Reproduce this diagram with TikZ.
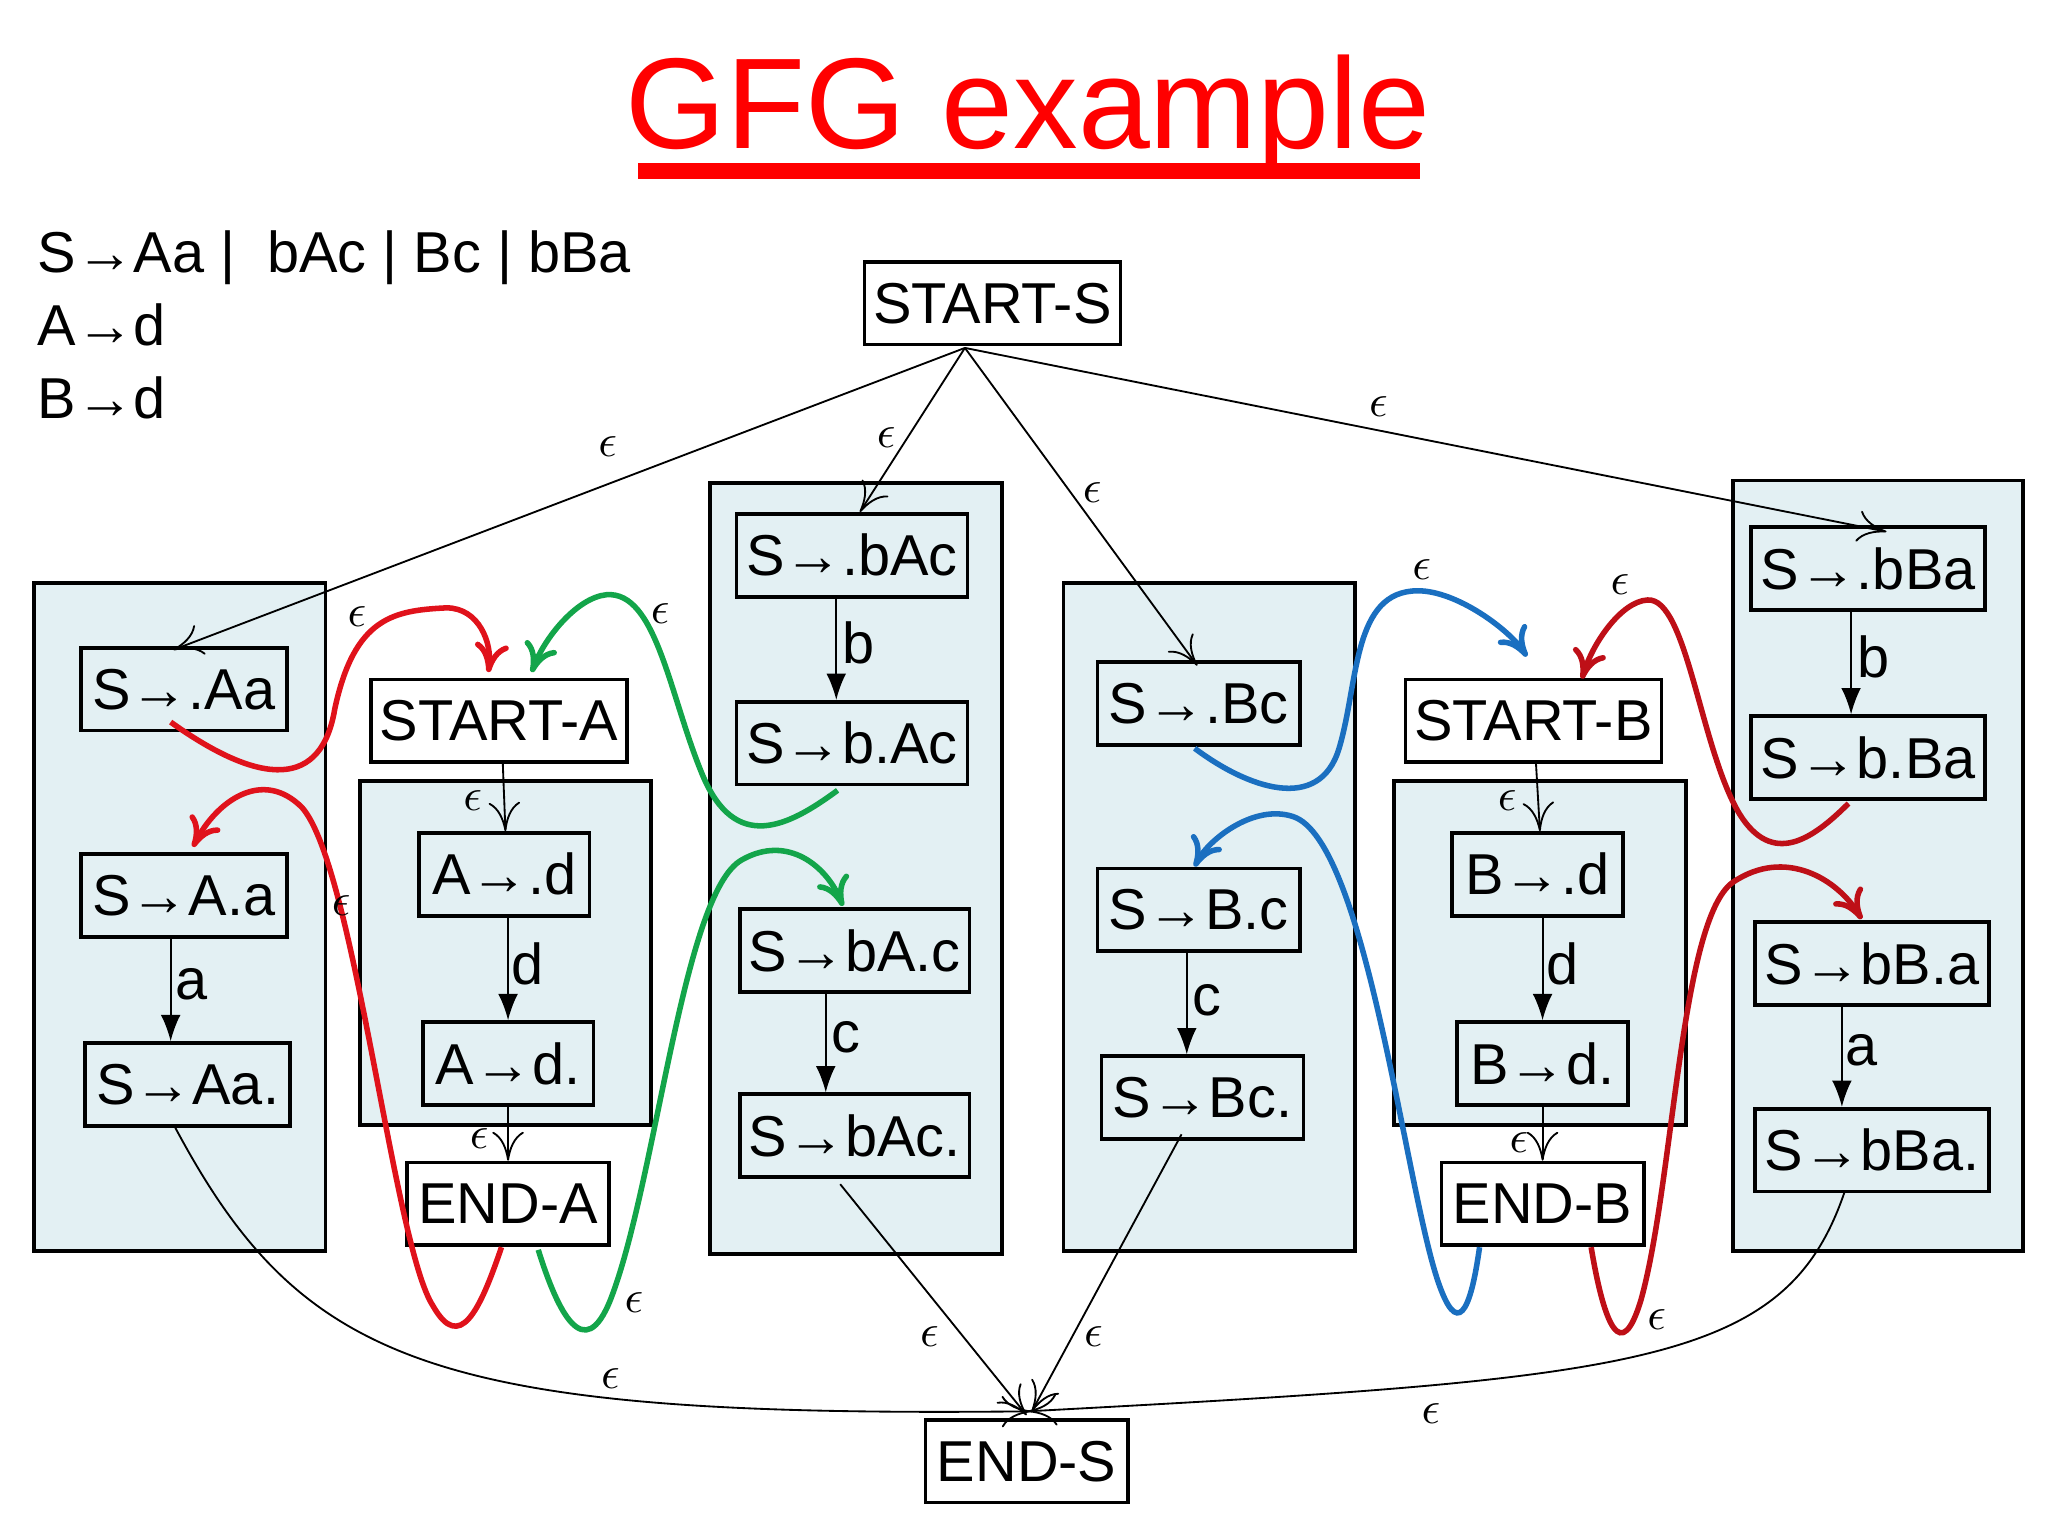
\documentclass[tikz,border=0pt]{standalone}
\usepackage{fontspec}
\setmainfont{Liberation Sans}
\usetikzlibrary{arrows.meta}
\definecolor{bgb}{HTML}{E3F0F3}
\definecolor{gr}{HTML}{13A54A}
\definecolor{bl}{HTML}{1A6FC0}
\definecolor{rd}{HTML}{E0121B}
\begin{document}
\begin{tikzpicture}[x=0.1mm,y=-0.1mm,
 box/.style={draw,thick,fill=bgb,minimum height=6.3mm,inner sep=0pt,font=\fontsize{12.5}{14}\selectfont},
 panel/.style={draw,thick,fill=bgb},
 eps/.style={font=\fontsize{10}{12}\selectfont},
 lab/.style={font=\fontsize{12.5}{14}\selectfont},
 eo/.style={-{To[length=2.2mm,width=2.4mm]}},
 ef/.style={-{Latex[length=2mm,width=1.5mm]}},
 cv/.style={very thick,-{To[length=2.2mm,width=2.6mm]}}]
\useasboundingbox (0,0) rectangle (1560,1170);
% panels
\draw[panel] (26,444) rectangle (248,953);
\draw[panel] (274,595) rectangle (496,857);
\draw[panel] (541,368) rectangle (763,955);
\draw[panel] (810,444) rectangle (1032,953);
\draw[panel] (1062,595) rectangle (1284,857);
\draw[panel] (1320,366) rectangle (1541,953);
% title
\node[text=red,font=\fontsize{28}{32}\selectfont] (title) at (783,88) {GFG example};
\draw[red,line width=1.2mm] (486,130) -- (1082,130);
\node[anchor=north west,align=left,font=\fontsize{12.5}{15.8}\selectfont,inner sep=0pt] (gram) at (28,175) {S→Aa |\ \ bAc | Bc | bBa\\A→d\\B→d};
% nodes
\node[box,fill=white,minimum width=19.5mm] (SS) at (756,231) {START-S};
\node[box,minimum width=15.7mm] (Aa0) at (140,525) {S→.Aa};
\node[box,minimum width=15.7mm] (Aa1) at (140,682) {S→A.a};
\node[box,minimum width=15.6mm] (Aa2) at (143,826) {S→Aa.};
\node[box,fill=white,minimum width=19.5mm] (SA) at (380,549) {START-A};
\node[box,minimum width=13mm] (Ad0) at (384,666) {A→.d};
\node[box,minimum width=13mm] (Ad1) at (387,810) {A→d.};
\node[box,fill=white,minimum width=15.4mm] (EA) at (387,917) {END-A};
\node[box,minimum width=17.6mm] (bAc0) at (649,423) {S→.bAc};
\node[box,minimum width=17.6mm] (bAc1) at (649,566) {S→b.Ac};
\node[box,minimum width=17.5mm] (bAc2) at (651,724) {S→bA.c};
\node[box,minimum width=17.5mm] (bAc3) at (651,865) {S→bAc.};
\node[box,minimum width=15.4mm] (Bc0) at (913,536) {S→.Bc};
\node[box,minimum width=15.4mm] (Bc1) at (913,693) {S→B.c};
\node[box,minimum width=15.4mm] (Bc2) at (916,836) {S→Bc.};
\node[box,fill=white,minimum width=19.5mm] (SB) at (1168,549) {START-B};
\node[box,minimum width=13mm] (Bd0) at (1171,666) {B→.d};
\node[box,minimum width=13mm] (Bd1) at (1175,810) {B→d.};
\node[box,fill=white,minimum width=15.4mm] (EB) at (1175,917) {END-B};
\node[box,minimum width=17.8mm] (bBa0) at (1423,433) {S→.bBa};
\node[box,minimum width=17.8mm] (bBa1) at (1423,577) {S→b.Ba};
\node[box,minimum width=17.8mm] (bBa2) at (1426,734) {S→bB.a};
\node[box,minimum width=17.8mm] (bBa3) at (1426,876) {S→bBa.};
\node[box,fill=white,minimum width=15.4mm] (ES) at (782,1113) {END-S};
\coordinate (ss) at (735,265);
% from START-S
\draw[eo] (ss) -- (132,495); \node[eps] at (463,340) {$\epsilon$};
\draw[eo] (ss) -- (655,390); \node[eps] at (675,333) {$\epsilon$};
\draw[eo] (ss) -- (912,507); \node[eps] at (832,375) {$\epsilon$};
\draw[eo] (ss) -- (1437,405); \node[eps] at (1050,310) {$\epsilon$};
% internal
\draw[ef] (Aa1.south-|130,0) -- (Aa2.north-|130,0); \node[lab] at (146,750) {a};
\draw[ef] (bAc0.south-|637,0) -- (bAc1.north-|637,0); \node[lab] at (654,490) {b};
\draw[ef] (bAc2.south-|629,0) -- (bAc3.north-|629,0); \node[lab] at (644,790) {c};
\draw[ef] (Bc1.south-|904,0) -- (Bc2.north-|904,0); \node[lab] at (919,762) {c};
\draw[ef] (bBa0.south-|1410,0) -- (bBa1.north-|1410,0); \node[lab] at (1427,500) {b};
\draw[ef] (bBa2.south-|1403,0) -- (bBa3.north-|1403,0); \node[lab] at (1418,800) {a};
\draw[ef] (Ad0.south-|387,0) -- (Ad1.north-|387,0); \node[lab] at (402,734) {d};
\draw[ef] (Bd0.south-|1175,0) -- (Bd1.north-|1175,0); \node[lab] at (1190,734) {d};
\draw[eo] (SA.south-|383,0) -- (Ad0.north-|385,0); \node[eps] at (360,610) {$\epsilon$};
\draw[eo] (Ad1.south-|387,0) -- (EA.north-|387,0); \node[eps] at (365,867) {$\epsilon$};
\draw[eo] (SB.south-|1170,0) -- (Bd0.north-|1173,0); \node[eps] at (1148,610) {$\epsilon$};
\draw[eo] (Bd1.south-|1175,0) -- (EB.north-|1175,0); \node[eps] at (1157,870) {$\epsilon$};
% to END-S
\draw[eo] (133,858) .. controls (230,1040) and (330,1080) .. (785,1075); \node[eps] at (465,1050) {$\epsilon$};
\draw[eo] (640,902) -- (782,1078); \node[eps] at (708,1018) {$\epsilon$};
\draw[eo] (900,864) -- (786,1075); \node[eps] at (833,1018) {$\epsilon$};
\draw[eo] (1405,908) .. controls (1360,1040) and (1250,1050) .. (783,1075); \node[eps] at (1090,1077) {$\epsilon$};
% coloured
\draw[cv,rd] (130,550) .. controls (200,600) and (245,600) .. (255,540) .. controls (270,470) and (300,465) .. (340,463) .. controls (365,463) and (375,490) .. (372,512);
\node[eps] at (272,470) {$\epsilon$};
\draw[cv,rd] (382,950) .. controls (365,1000) and (350,1030) .. (330,995) .. controls (300,950) and (270,660) .. (230,615) .. controls (200,585) and (165,610) .. (147,645);
\node[eps] at (260,690) {$\epsilon$};
\draw[cv,gr] (638,602) .. controls (600,630) and (560,650) .. (535,590) .. controls (510,530) and (500,450) .. (462,453) .. controls (440,455) and (415,485) .. (405,512);
\node[eps] at (503,467) {$\epsilon$};
\draw[cv,gr] (410,952) .. controls (425,1000) and (445,1040) .. (465,990) .. controls (500,900) and (520,680) .. (565,655) .. controls (600,635) and (630,660) .. (642,690);
\node[eps] at (483,992) {$\epsilon$};
\draw[cv,bl] (910,570) .. controls (950,600) and (1005,620) .. (1020,570) .. controls (1035,520) and (1030,450) .. (1080,450) .. controls (1110,450) and (1150,480) .. (1163,500);
\node[eps] at (1083,434) {$\epsilon$};
\draw[cv,bl] (1127,950) .. controls (1120,1000) and (1110,1020) .. (1095,975) .. controls (1070,900) and (1040,640) .. (985,622) .. controls (955,612) and (920,640) .. (910,660);
\draw[cv,rd!85!black] (1408,612) .. controls (1380,640) and (1350,660) .. (1325,620) .. controls (1295,570) and (1285,455) .. (1255,457) .. controls (1235,458) and (1213,490) .. (1205,517);
\node[eps] at (1234,445) {$\epsilon$};
\draw[cv,rd!85!black] (1212,950) .. controls (1222,1010) and (1235,1040) .. (1250,990) .. controls (1275,900) and (1280,700) .. (1320,672) .. controls (1360,645) and (1400,670) .. (1418,700);
\node[eps] at (1262,1005) {$\epsilon$};
\end{tikzpicture}
\end{document}
